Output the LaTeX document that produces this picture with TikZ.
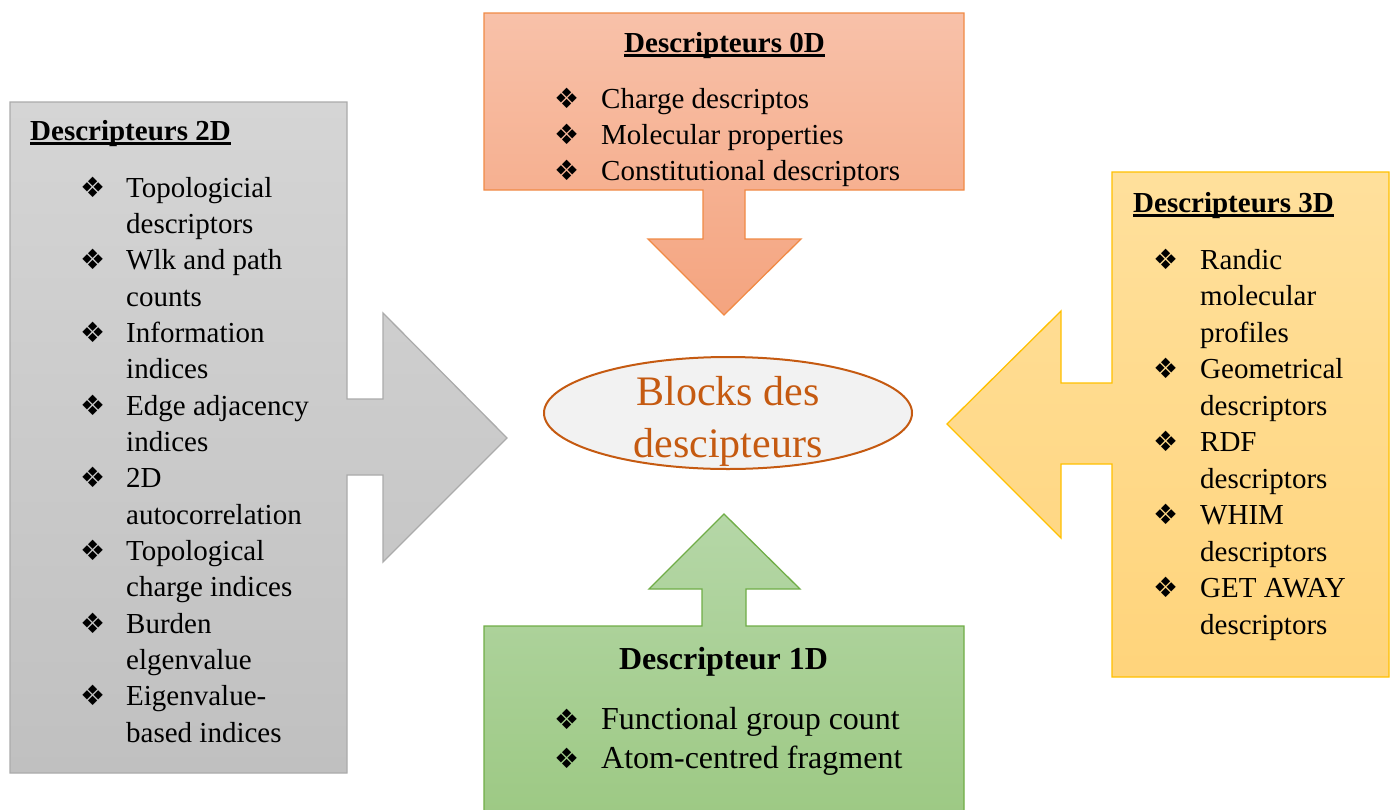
\documentclass[tikz,border=0pt]{standalone}
\usepackage{fontspec}
\setmainfont{Liberation Serif}
\newfontfamily\symfont{DejaVu Sans}
\usetikzlibrary{shapes.geometric}
\definecolor{orTop}{HTML}{F8C1A9}
\definecolor{orBot}{HTML}{F4A47F}
\definecolor{orLine}{HTML}{F08A45}
\definecolor{grTop}{HTML}{D5D5D5}
\definecolor{grBot}{HTML}{C0C0C0}
\definecolor{grLine}{HTML}{ABABAB}
\definecolor{yeTop}{HTML}{FFE09C}
\definecolor{yeBot}{HTML}{FFD47B}
\definecolor{yeLine}{HTML}{FFC000}
\definecolor{gnTop}{HTML}{B5D7A7}
\definecolor{gnBot}{HTML}{9DC984}
\definecolor{gnLine}{HTML}{70AD47}
\definecolor{brown}{HTML}{C55A11}
\definecolor{ellFill}{HTML}{F2F2F2}
\begin{document}
\begin{tikzpicture}[x=1pt,y=-1pt,
  txt/.style={anchor=mid west, inner sep=0pt, font=\fontsize{29}{35}\selectfont},
  bigtxt/.style={anchor=mid west, inner sep=0pt, font=\fontsize{32}{38}\selectfont},
  bul/.style={anchor=mid west, inner sep=0pt, font=\symfont\fontsize{28}{32}\selectfont},
  ttl/.style={inner sep=0pt, font=\bfseries\fontsize{29}{35}\selectfont},
  uline/.style={line width=2.2pt},
  callout/.style={line width=1.3pt, line join=miter}]
\useasboundingbox (0,0) rectangle (1390,809);
% 0D callout (top)
\path[callout, draw=orLine, top color=orTop, bottom color=orBot]
  (484,13) -- (964,13) -- (964,190) -- (745,190) -- (745,239) -- (801,239) -- (724,315)
  -- (648,239) -- (703,239) -- (703,190) -- (484,190) -- cycle;
% 2D callout (left)
\path[callout, draw=grLine, top color=grTop, bottom color=grBot]
  (10,102) -- (347,102) -- (347,399) -- (383,399) -- (383,313) -- (507,438)
  -- (383,562) -- (383,475) -- (347,475) -- (347,773) -- (10,773) -- cycle;
% 3D callout (right)
\path[callout, draw=yeLine, top color=yeTop, bottom color=yeBot]
  (1112,172) -- (1389,172) -- (1389,677) -- (1112,677) -- (1112,464) -- (1061,464)
  -- (1061,538) -- (947,424) -- (1061,311) -- (1061,383) -- (1112,383) -- cycle;
% 1D callout (bottom)
\path[callout, draw=gnLine, top color=gnTop, bottom color=gnBot]
  (484,626) -- (702,626) -- (702,589) -- (649,589) -- (724,514) -- (800,589)
  -- (746,589) -- (746,626) -- (964,626) -- (964,815) -- (484,815) -- cycle;
% centre
\node[ellipse, draw=brown, line width=2pt, fill=ellFill, minimum width=368pt, minimum height=112pt] (c) at (728,413) {};
\node[text=brown, align=center, inner sep=0pt, font=\fontsize{42}{52}\selectfont] (cl) at (728,421) {Blocks des\\descipteurs};
% titles
\node[ttl, anchor=base] (t0) at (724.5,52) {Descripteurs 0D};
\draw[uline] ([yshift=-3.5pt]t0.base west) -- ([yshift=-3.5pt]t0.base east);
\node[ttl, anchor=base west] (t2) at (30,140) {Descripteurs 2D};
\draw[uline] ([yshift=-3.5pt]t2.base west) -- ([yshift=-3.5pt]t2.base east);
\node[ttl, anchor=base west] (t3) at (1133,212) {Descripteurs 3D};
\draw[uline] ([yshift=-3.5pt]t3.base west) -- ([yshift=-3.5pt]t3.base east);
\node[inner sep=0pt, font=\bfseries\fontsize{32}{38}\selectfont, anchor=base] (t1) at (723.5,669) {Descripteur 1D};
% 0D list
\foreach \s [count=\i from 0] in {Charge descriptos,Molecular properties,Constitutional descriptors}
  \node[txt] (T\i) at (601,106+36*\i) {\s};
\foreach \i in {0,1,2} \node[bul] (TB\i) at (554,106+36*\i) {❖};
% 1D list
\foreach \s [count=\i from 0] in {Functional group count,Atom-centred fragment}
  \node[bigtxt] (B\i) at (601,727+39*\i) {\s};
\foreach \i in {0,1} \node[bul] (BB\i) at (554,727+39*\i) {❖};
% 2D list
\foreach \s [count=\i from 0] in {Topologicial,descriptors,Wlk and path,counts,Information,indices,Edge adjacency,indices,2D,autocorrelation,Topological,charge indices,Burden,elgenvalue,Eigenvalue-,based indices}
  \node[txt] (L\i) at (126,195+36.33*\i) {\s};
\foreach \i in {0,2,...,14} \node[bul] (LB\i) at (80,195+36.33*\i) {❖};
% 3D list
\foreach \s [count=\i from 0] in {Randic,molecular,profiles,Geometrical,descriptors,RDF,descriptors,WHIM,descriptors,GET AWAY,descriptors}
  \node[txt] (R\i) at (1200,267+36.5*\i) {\s};
\foreach \i in {0,3,5,7,9} \node[bul] (RB\i) at (1153,267+36.5*\i) {❖};
\end{tikzpicture}
\end{document}
